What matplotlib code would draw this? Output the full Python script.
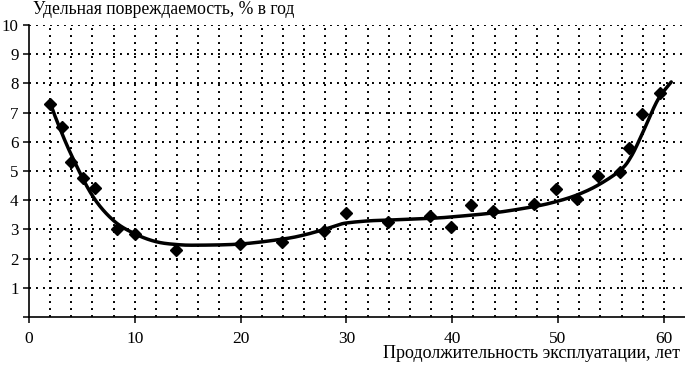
import numpy as np
import matplotlib
matplotlib.use("Agg")
import matplotlib.pyplot as plt

# Observed data points (years, % per year)
years = [2.0, 3.1, 4.0, 5.1, 6.2, 8.3, 10.0, 13.9, 19.9, 23.9, 27.9, 30.0, 33.9,
         37.9, 39.9, 41.8, 43.9, 47.7, 49.8, 51.8, 53.8, 55.9, 56.7, 57.9, 59.6]
damage = [7.3, 6.5, 5.3, 4.77, 4.42, 3.0, 2.84, 2.3, 2.5, 2.57, 2.94, 3.55, 3.25,
          3.46, 3.08, 3.83, 3.63, 3.87, 4.38, 4.04, 4.83, 4.97, 5.8, 6.95, 7.67]

# Trend curve
trend_x = [2.0, 2.6, 4.0, 6.0, 8.0, 10.0, 12.0, 14.0, 16.0, 20.0, 24.0, 26.0, 28.0,
           29.2, 30.0, 32.0, 34.0, 38.0, 40.0, 44.0, 47.7, 49.8, 51.8, 53.8, 55.9,
           56.9, 57.9, 58.8, 59.6, 60.7]
trend_y = [7.35, 6.75, 5.55, 4.15, 3.3, 2.85, 2.58, 2.48, 2.46, 2.5, 2.67, 2.81, 3.01,
           3.15, 3.22, 3.29, 3.32, 3.38, 3.43, 3.57, 3.78, 3.95, 4.18, 4.52, 5.03,
           5.49, 6.23, 6.97, 7.54, 8.05]

y_label = "Удельная повреждаемость, % в год"
x_label = "Продолжительность эксплуатации, лет"


def catmull_rom(xs, ys, n=20):
    P = np.column_stack([xs, ys]).astype(float)
    P = np.vstack([2 * P[0] - P[1], P, 2 * P[-1] - P[-2]])
    out = []
    t = np.linspace(0, 1, n, endpoint=False)
    for i in range(1, len(P) - 2):
        p0, p1, p2, p3 = P[i - 1], P[i], P[i + 1], P[i + 2]
        tt = t[:, None]
        seg = 0.5 * ((2 * p1) + (-p0 + p2) * tt + (2 * p0 - 5 * p1 + 4 * p2 - p3) * tt ** 2
                     + (-p0 + 3 * p1 - 3 * p2 + p3) * tt ** 3)
        out.append(seg)
    out.append(P[-2][None, :])
    out = np.vstack(out)
    return out[:, 0], out[:, 1]


plt.rcParams['font.family'] = ['Liberation Serif', 'DejaVu Serif']

fig = plt.figure(figsize=(6.85, 3.66), dpi=100)
ax = fig.add_axes([29 / 685, (366 - 317) / 366, (685 - 29) / 685, (317 - 25) / 366])

ax.set_xlim(0, 62)
ax.set_ylim(0, 10)

ax.set_xticks(np.arange(0, 61, 10))
ax.set_xticks(np.arange(2, 61, 2), minor=True)
ax.set_yticks(np.arange(0, 11, 1))

dot = (0, (1, 2.6))
for xv in np.arange(2, 61, 2):
    ax.axvline(xv, color='black', lw=1.4, linestyle=dot, zorder=1)
for yv in np.arange(1, 11, 1):
    ax.axhline(yv, color='black', lw=1.4, linestyle=dot, zorder=1)

ax.spines['top'].set_visible(False)
ax.spines['right'].set_visible(False)
ax.spines['left'].set_linewidth(1.2)
ax.spines['bottom'].set_linewidth(1.2)

ax.tick_params(axis='both', which='major', direction='out', length=4, width=1.1,
               labelsize=12.5)
ax.tick_params(axis='x', pad=6)
ax.tick_params(axis='y', pad=3.5, labelsize=12.2)
ax.tick_params(axis='x', which='minor', length=0)
ax.set_yticklabels([("" if v == 0 else str(v)) for v in range(0, 11)])

cx, cy = catmull_rom(trend_x, trend_y)
ax.plot(cx, cy, color='black', lw=2.5, zorder=3, solid_capstyle='round')
ax.plot(years, damage, linestyle='none', marker='D', markersize=6.4,
        color='black', zorder=4)

fig.text(33 / 685, 1 - 10 / 366, y_label, ha='left', va='center', fontsize=12.7)
fig.text(680 / 685, 1 - 354 / 366, x_label, ha='right', va='center', fontsize=13)

fig.savefig("out.png", dpi=100)
